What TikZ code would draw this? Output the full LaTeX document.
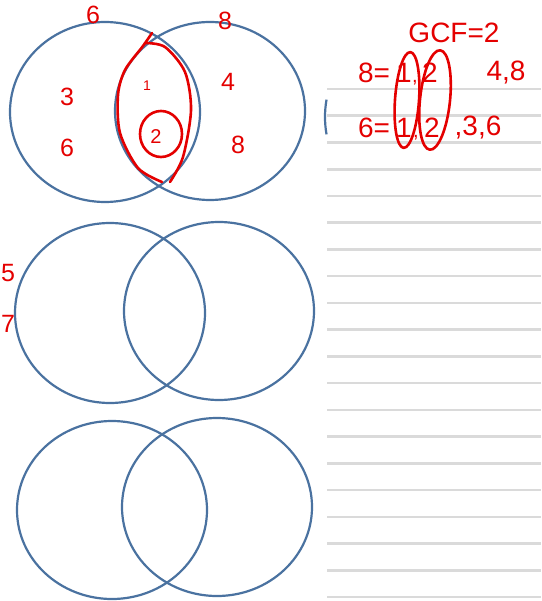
\documentclass[tikz,border=0pt]{standalone}
\usepackage{fontspec}
\setmainfont{Liberation Sans}
\usetikzlibrary{positioning}
\definecolor{vennblue}{RGB}{74,114,160}
\definecolor{inkred}{RGB}{228,0,0}
\definecolor{rulegray}{RGB}{218,218,218}

\begin{document}
\begin{tikzpicture}[
    x=1pt, y=-1pt,
    venn/.style={draw=vennblue, line width=2.2pt},
    ink/.style={draw=inkred, line width=2.6pt, line cap=round, line join=round},
    digit/.style={text=inkred, inner sep=0pt, font=\fontsize{25}{25}\selectfont},
    small/.style={text=inkred, inner sep=0pt, font=\fontsize{14}{14}\selectfont},
    note/.style={text=inkred, inner sep=0pt, font=\fontsize{28}{28}\selectfont},
    ruling/.style={draw=rulegray, line width=2.6pt}
]
\useasboundingbox (0,0) rectangle (541,601);
% Ruled paper on the right
\foreach \k in {0,...,19}
  \draw[ruling] (327,{89+26.74*\k}) -- (541,{89+26.74*\k});
\draw[venn] (425,117) ++(170:100) arc[start angle=170, end angle=190, radius=100];
% Three Venn pairs
\draw[venn] (105,112) ellipse[x radius=95, y radius=90];
\draw[venn] (210,111) ellipse[x radius=95, y radius=89];
\draw[venn] (110,313) ellipse[x radius=95, y radius=90];
\draw[venn] (219,311) ellipse[x radius=95, y radius=89];
\draw[venn] (112,510) ellipse[x radius=95, y radius=89];
\draw[venn] (217,507) ellipse[x radius=95, y radius=89];
% Labels of the first pair
\node[digit] (lsix)   at (93,15)  {6};
\node[digit] (reight) at (225,21) {8};
\node[digit] (three)  at (67,97)  {3};
\node[digit] (six)    at (67,148) {6};
\node[small] (one)    at (147,86) {1};
\node[digit, font=\fontsize{20}{20}\selectfont] (two) at (156,137) {2};
\node[digit] (four)   at (228,82) {4};
\node[digit] (eight)  at (238,145) {8};
\draw[ink] (161,134) ellipse[x radius=21, y radius=23];
\draw[ink] plot[smooth] coordinates {(152,33) (143,46) (125,70) (118,95) (120,133)
  (138,168) (162,182)};
\draw[ink] plot[smooth] coordinates {(170,182) (183,157) (191,110) (185,72) (165,47)
  (145,43)};
% Second pair, by the left edge
\node[digit, anchor=west] (five)  at (1,273) {5};
\node[digit, anchor=west] (seven) at (1,324) {7};
% Factor lists
\node[note] (gcf) at (454,33) {GCF=2};
\node[note] (eq8) at (374,73) {8=};
\node[note] (a1)  at (404,73) {1};
\node[note, font=\fontsize{20}{20}\selectfont] (c1) at (415,83) {,};
\node[note] (a2)  at (430,73) {2};
\node[note] (r8)  at (506,73) {4,8};
\node[note] (eq6) at (374,128) {6=};
\node[note] (b1)  at (404,128) {1};
\node[note, font=\fontsize{20}{20}\selectfont] (c2) at (416,138) {,};
\node[note] (b2)  at (432,128) {2};
\node[note] (r6)  at (478,128) {,3,6};
\draw[ink] (407,100) ellipse[x radius=12, y radius=48, rotate=-4];
\draw[ink] (435,100) ellipse[x radius=15, y radius=50, rotate=-6];
\end{tikzpicture}
\end{document}
